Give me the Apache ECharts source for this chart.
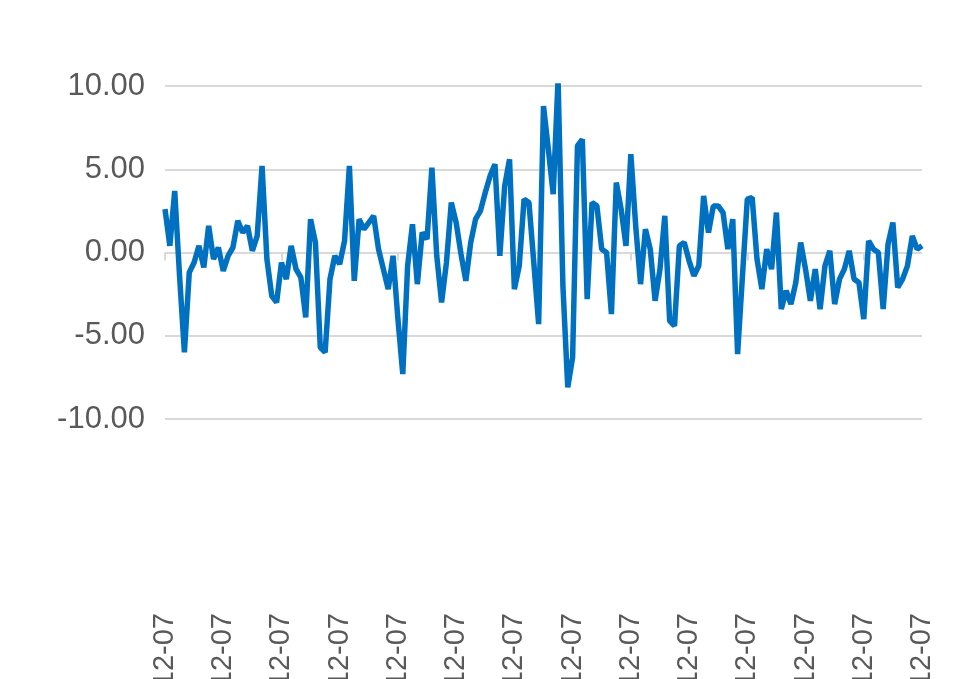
<!DOCTYPE html>
<html>
<head>
<meta charset="utf-8">
<script src="https://cdn.jsdelivr.net/npm/echarts@6/dist/echarts.min.js"></script>
<style>html,body{margin:0;padding:0;background:#fff}#chart{width:975px;height:679px}</style>
</head>
<body>
<div id="chart"></div>
<script>
// monthly values, 2012-12 .. 2025-12
var values= [
  2.6, 0.4, 3.7, -1.4, -6.0, -1.2, -0.6, 0.4, -0.9, 1.6, -0.4, 0.3,
  -1.1, -0.2, 0.3, 1.9, 1.2, 1.6, 0.1, 1.0, 5.2, -0.4, -2.6, -3.0,
  -0.6, -1.6, 0.4, -1.0, -1.5, -3.9, 2.0, 0.6, -5.7, -6.0, -1.6, -0.2,
  -0.7, 0.7, 5.2, -1.7, 2.0, 1.4, 1.8, 2.2, 0.2, -1.0, -2.2, -0.2,
  -4.0, -7.3, -0.8, 1.7, -1.9, 1.2, 0.8, 5.1, -0.2, -3.0, -0.6, 3.0,
  1.8, -0.1, -1.7, 0.6, 2.0, 2.5, 3.6, 4.6, 5.3, -0.2, 4.0, 5.6,
  -2.2, -0.8, 3.2, 3.0, -0.6, -4.3, 8.8, 6.2, 3.5, 10.4, -2.0, -8.1,
  -6.3, 6.4, 6.8, -2.8, 3.0, 2.8, 0.2, 0.0, -3.7, 4.2, 2.6, 0.4,
  5.9, 1.6, -1.9, 1.4, 0.2, -2.9, -1.0, 2.2, -4.1, -4.4, 0.4, 0.6,
  -0.5, -1.4, -0.8, 3.4, 1.2, 2.8, 2.8, 2.4, 0.2, 2.0, -6.1, -1.4,
  3.2, 3.3, -0.4, -2.2, 0.2, -1.0, 2.4, -3.4, -2.3, -3.1, -1.8, 0.6,
  -1.0, -2.9, -1.0, -3.4, -0.8, 0.1, -3.1, -1.6, -1.0, 0.1, -1.6, -1.8,
  -4.0, 0.7, 0.2, 0.0, -3.4, 0.5, 1.8, -2.1, -1.6, -0.8, 1.0, 0.2,
  0.4
];
var startYear= 2012, startMonth= 12;
var yTicks= [-10, -5, 0, 5, 10];

var categories= [];
for(var i= 0; i< values.length; i++) {
  var m= startMonth- 1+ i;
  var y= startYear+ Math.floor(m/ 12);
  var mm= (m% 12)+ 1;
  categories.push(y+ '-'+ (mm< 10? '0'+ mm: mm)+ '-07');
}

var chart= echarts.init(document.getElementById('chart'), null, {renderer: 'canvas'});
chart.setOption({
  animation: false,
  grid: {left: 165, right: 53, top: 86, bottom: 260, containLabel: false, outerBoundsMode: 'none'},
  xAxis: {
    type: 'category',
    data: categories,
    boundaryGap: false,
    axisLine: {show: false, onZero: true},
    axisTick: {show: true, interval: 23, length: 8, lineStyle: {color: '#d9d9d9', width: 2}},
    axisLabel: {
      interval: 11, rotate: 90, color: '#595959', fontSize: 29, margin: 194,
      fontFamily: 'Liberation Sans, Arial, sans-serif'
    },
    splitLine: {show: false}
  },
  yAxis: {
    type: 'value',
    min: yTicks[0], max: yTicks[yTicks.length- 1], interval: 5,
    axisLine: {show: false},
    axisTick: {show: false},
    axisLabel: {
      color: '#595959', fontSize: 31, margin: 20,
      fontFamily: 'Liberation Sans, Arial, sans-serif',
      formatter: function(v) { return v.toFixed(2); }
    },
    splitLine: {lineStyle: {color: '#d9d9d9', width: 2}}
  },
  series: [{
    type: 'line',
    data: values,
    showSymbol: false,
    lineStyle: {color: '#0070C0', width: 5.5},
    itemStyle: {color: '#0070C0'}
  }]
});
</script>
</body>
</html>
